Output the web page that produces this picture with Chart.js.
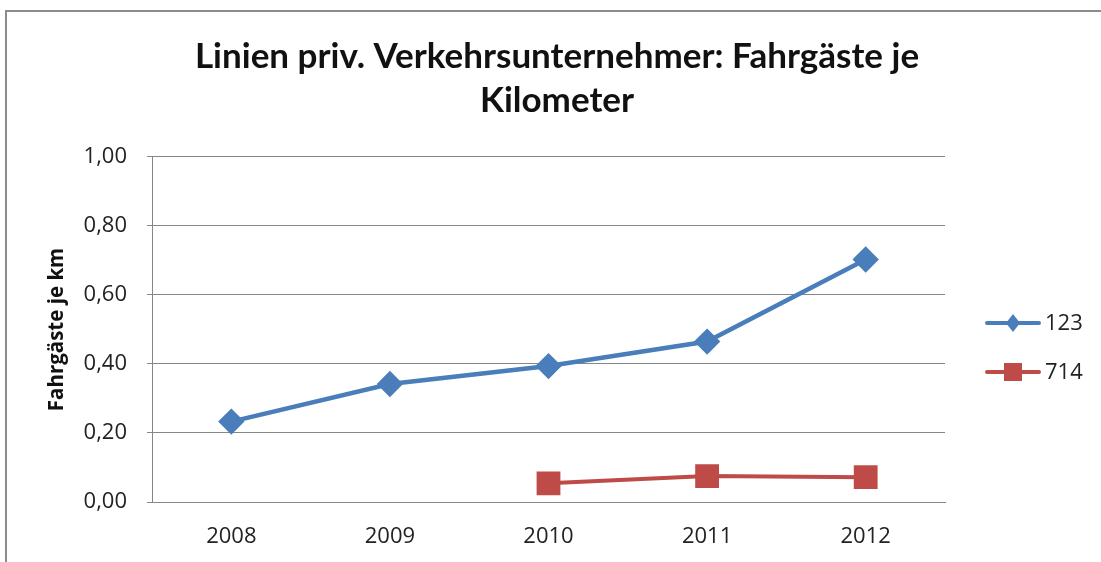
<!DOCTYPE html>
<html>
<head>
<meta charset="utf-8">
<script src="https://cdn.jsdelivr.net/npm/chart.js@4.4.0/dist/chart.umd.min.js"></script>
<style>
  body { margin: 0; background: #fff; }
  #frame { position: absolute; left: 5px; top: 10px; width: 1200px; height: 700px;
           border-left: 2px solid #8c8c8c; border-top: 2px solid #8c8c8c; }
  #wrap { position: absolute; left: 0; top: 0; width: 1101px; height: 562px; }
</style>
</head>
<body>
<div id="frame"></div>
<div id="wrap"><canvas id="lineChart"></canvas></div>
<script>
// data
const years = ['2008', '2009', '2010', '2011', '2012'];
const line123 = [0.233, 0.342, 0.394, 0.465, 0.703];
const line714 = [null, null, 0.054, 0.075, 0.072];
const yTicks = [0, 0.2, 0.4, 0.6, 0.8, 1.0];

const TITLE_FONT = 'Lato, "Open Sans", sans-serif';
const FONT = '"Open Sans", Lato, sans-serif';

// legend drawn Excel style: line with marker in the middle
const excelLegend = {
    id: 'excelLegend',
    afterDraw(chart) {
        const ctx = chart.ctx;
        const rows = [323, 372];
        chart.data.datasets.forEach(function (ds, i) {
            const y = rows[i];
            ctx.save();
            ctx.strokeStyle = ds.borderColor;
            ctx.lineWidth = 4;
            ctx.lineCap = 'round';
            ctx.beginPath();
            ctx.moveTo(987, y);
            ctx.lineTo(1039, y);
            ctx.stroke();
            ctx.fillStyle = ds.pointBackgroundColor;
            if (ds.pointStyle === 'rectRot') {
                ctx.beginPath();
                ctx.moveTo(1013, y - 9);
                ctx.lineTo(1020, y);
                ctx.lineTo(1013, y + 9);
                ctx.lineTo(1006, y);
                ctx.closePath();
                ctx.fill();
            } else {
                ctx.fillRect(1004, y - 9, 18, 18);
            }
            ctx.fillStyle = '#222';
            ctx.font = '22px ' + FONT;
            ctx.textBaseline = 'middle';
            ctx.fillText(ds.label, 1045, y + 1);
            ctx.restore();
        });
    }
};

const ctx = document.getElementById('lineChart').getContext('2d');
const chart = new Chart(ctx, {
    type: 'line',
    data: {
        labels: years,
        datasets: [{
            label: '123',
            data: line123,
            borderColor: '#4a7ebb',
            backgroundColor: '#4a7ebb',
            pointBackgroundColor: '#4a7ebb',
            pointBorderColor: '#4a7ebb',
            borderWidth: 4.5,
            pointStyle: 'rectRot',
            pointRadius: 10,
            pointHoverRadius: 10,
            tension: 0
        }, {
            label: '714',
            data: line714,
            borderColor: '#be4b48',
            backgroundColor: '#be4b48',
            pointBackgroundColor: '#be4b48',
            pointBorderColor: '#be4b48',
            borderWidth: 4,
            pointStyle: 'rect',
            pointRadius: 14,
            pointHoverRadius: 14,
            tension: 0
        }]
    },
    options: {
        responsive: true,
        maintainAspectRatio: false,
        animation: false,
        layout: { padding: { left: 13, right: 0, top: 0, bottom: 0 } },
        plugins: {
            legend: { display: false },
            tooltip: { enabled: false },
            title: {
                display: true,
                text: ['Linien priv. Verkehrsunternehmer: Fahrgäste je', 'Kilometer'],
                color: '#111',
                font: { family: TITLE_FONT, size: 35, weight: 'bold', lineHeight: 1.257 },
                padding: { top: 35, bottom: 34 }
            }
        },
        scales: {
            x: {
                offset: true,
                grid: { display: false, drawTicks: false },
                border: { color: '#868686', width: 1 },
                ticks: { color: '#222', font: { family: FONT, size: 22 }, padding: 22 },
                afterFit(scale) { scale.height = 60; }
            },
            y: {
                min: 0,
                max: 1,
                afterBuildTicks(scale) { scale.ticks = yTicks.map(v => ({ value: v })); },
                grid: { color: '#868686', lineWidth: 1, tickLength: 5 },
                border: { color: '#868686', width: 1 },
                ticks: {
                    color: '#222',
                    font: { family: FONT, size: 22 },
                    padding: 20,
                    callback: v => v.toFixed(2).replace('.', ',')
                },
                title: {
                    display: true,
                    text: 'Fahrgäste je km',
                    color: '#111',
                    font: { family: FONT, size: 20.5, weight: 'bold' },
                    padding: { top: 32, bottom: 0 }
                },
                afterFit(scale) { scale.width = 139; }
            },
            // empty axis that only reserves room for the legend on the right
            legendSpace: {
                position: 'right',
                display: true,
                grid: { display: false, drawTicks: false },
                border: { display: false },
                ticks: { display: false },
                afterFit(scale) { scale.width = 156; }
            }
        }
    },
    plugins: [excelLegend]
});
</script>
</body>
</html>
